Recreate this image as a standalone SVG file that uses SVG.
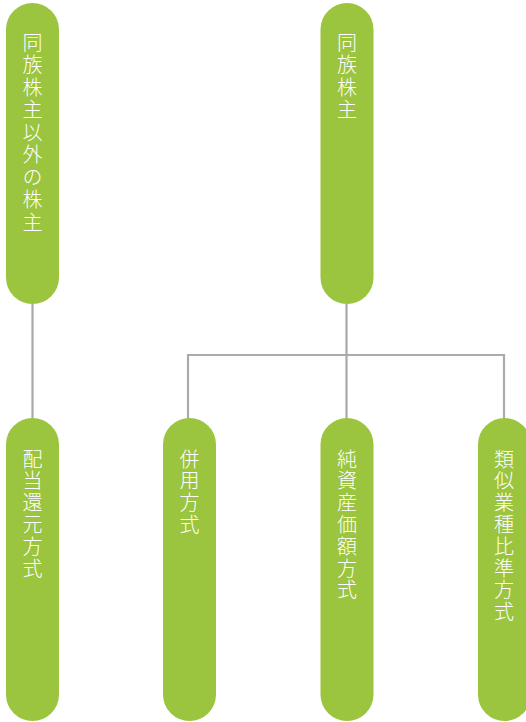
<svg xmlns="http://www.w3.org/2000/svg" width="526" height="722" viewBox="0 0 526 722">
<style>
.node{fill:#9bc43f}
.lbl{fill:#ffffff;font-family:"Noto Sans CJK JP","Noto Sans CJK SC",sans-serif;font-size:20px;font-weight:300;writing-mode:vertical-rl;text-orientation:upright}
.t1{letter-spacing:2.5px}
.t2{letter-spacing:1.8px}
.conn{stroke:#a9a9ae;stroke-width:2.2;fill:none}
</style>
<rect width="526" height="722" fill="#ffffff"/>
<g id="connectors">
<line class="conn" x1="32.5" y1="300" x2="32.5" y2="421"/>
<line class="conn" x1="346.5" y1="300" x2="346.5" y2="421"/>
<polyline class="conn" points="188,421 188,355 504,355 504,421"/>
</g>
<g id="node-other">
<rect class="node" x="6" y="3" width="53" height="301" rx="26.5"/>
<text class="lbl t1" x="32.5" y="32">同族株主以外の株主</text>
</g>
<g id="node-family">
<rect class="node" x="320.5" y="3" width="53" height="301" rx="26.5"/>
<text class="lbl t1" x="347" y="32">同族株主</text>
</g>
<g id="node-haitou">
<rect class="node" x="6" y="418" width="53" height="303" rx="26.5"/>
<text class="lbl t2" x="32.5" y="449">配当還元方式</text>
</g>
<g id="node-heiyou">
<rect class="node" x="163" y="418" width="53" height="303" rx="26.5"/>
<text class="lbl t2" x="189.5" y="449">併用方式</text>
</g>
<g id="node-junshisan">
<rect class="node" x="320.5" y="418" width="53" height="303" rx="26.5"/>
<text class="lbl t2" x="347" y="449">純資産価額方式</text>
</g>
<g id="node-ruiji">
<rect class="node" x="478" y="418" width="53" height="303" rx="26.5"/>
<text class="lbl t2" x="504" y="449">類似業種比準方式</text>
</g>
</svg>
